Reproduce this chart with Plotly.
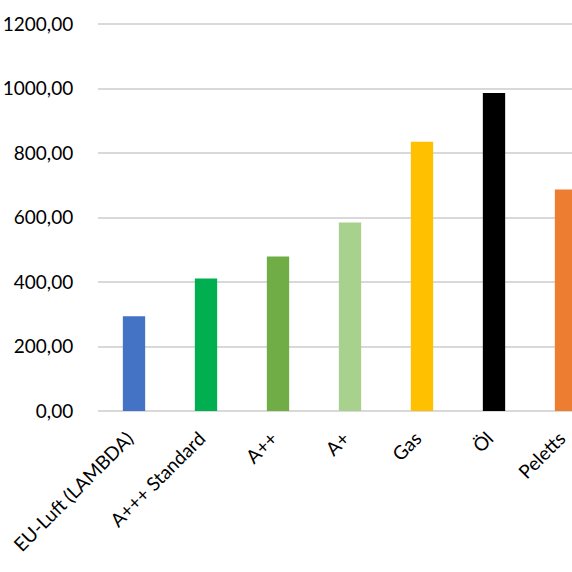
import plotly.graph_objects as go

categories = ["EU-Luft (LAMBDA)", "A+++ Standard", "A++", "A+", "Gas", "Öl", "Peletts"]
values = [294, 411, 479, 585, 835, 987, 687]
colors = ["#4472c4", "#00b050", "#70ad47", "#a9d18e", "#ffc000", "#000000", "#ed7d31"]
y_ticks = [0, 200, 400, 600, 800, 1000, 1200]
y_tick_labels = ["0,00", "200,00", "400,00", "600,00", "800,00", "1000,00", "1200,00"]

fig = go.Figure()
fig.add_trace(
    go.Bar(
        x=list(range(len(categories))),
        y=values,
        marker={"color": colors, "line": {"width": 0}},
        width=0.31,
    )
)

# figure is wider than the window: the original chart is cropped at the right edge
fig.update_layout(
    width=610,
    height=572,
    paper_bgcolor="white",
    plot_bgcolor="white",
    showlegend=False,
    font={"family": "Lato, Carlito, sans-serif", "size": 19, "color": "#000000"},
    margin={"l": 98, "r": 8, "t": 21, "b": 161},
    xaxis={
        "tickmode": "array",
        "tickvals": list(range(len(categories))),
        "ticktext": categories,
        "tickangle": -45,
        "range": [-0.5, 6.5],
        "showgrid": False,
        "showline": False,
        "zeroline": False,
        "ticks": "outside",
        "ticklen": 8,
        "tickcolor": "rgba(0,0,0,0)",
        "ticklabelshift": -6,
        "automargin": False,
    },
    yaxis={
        "tickmode": "array",
        "tickvals": y_ticks,
        "ticktext": y_tick_labels,
        "range": [0, 1210],
        "showgrid": True,
        "gridcolor": "#d9d9d9",
        "gridwidth": 1.5,
        "zeroline": True,
        "zerolinecolor": "#d9d9d9",
        "zerolinewidth": 1.5,
        "showline": False,
        "ticks": "outside",
        "ticklen": 20,
        "tickcolor": "rgba(0,0,0,0)",
        "automargin": False,
    },
)

fig.write_html(
    "out.html",
    config={"displayModeBar": False},
    post_script="document.body.style.margin='0';document.body.style.overflow='hidden';",
)
